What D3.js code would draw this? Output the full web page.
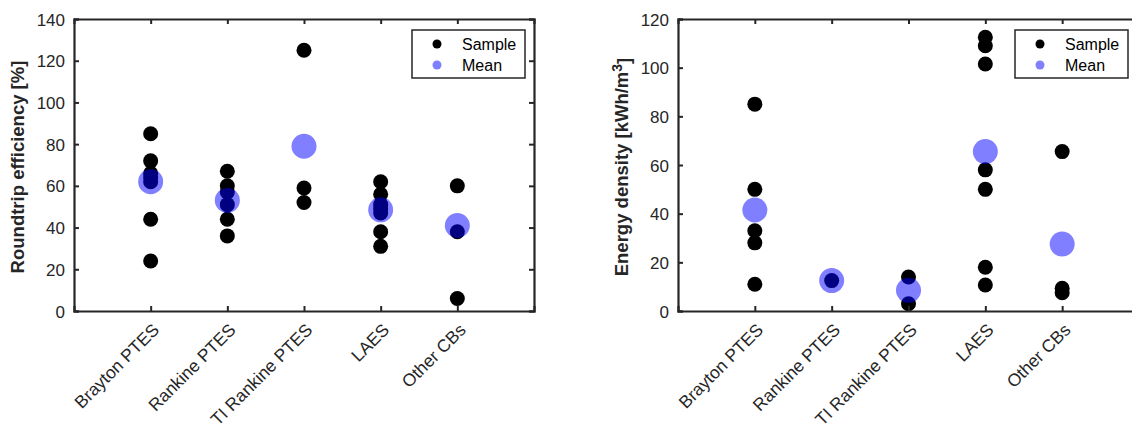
<!DOCTYPE html>
<html>
<head>
<meta charset="utf-8">
<script src="https://cdn.jsdelivr.net/npm/d3@7"></script>
<style>
  body { margin: 0; background: #fff; }
  svg { font-family: "Liberation Sans", Arial, sans-serif; }
  .tick text { fill: #262626; font-size: 17px; }
  .axis.bottom .tick text { font-size: 17.5px; }
  .ylab { font-weight: bold; font-size: 18.5px; fill: #262626; }
</style>
</head>
<body>
<svg id="chart" width="1132" height="431"></svg>
<script>
// categories on the x axis (shared by both panels)
const categories = ["Brayton PTES", "Rankine PTES", "TI Rankine PTES", "LAES", "Other CBs"];

// roundtrip efficiency [%]
const effSamples = [
  [85, 72, 66, 64, 62, 44, 24],
  [67, 60, 57, 51, 44, 36],
  [125, 59, 52],
  [62, 56, 51, 49, 47, 38, 31],
  [60, 38, 6]
];
const effMeans = [62, 53, 79, 48.5, 41];
const effTicks = [0, 20, 40, 60, 80, 100, 120, 140];

// energy density [kWh/m3]
const densSamples = [
  [85, 50, 33, 28, 11],
  [12.5],
  [14, 3],
  [112.5, 109, 101.5, 58, 50, 18, 10.7],
  [65.5, 9.3, 7.5]
];
const densMeans = [41.5, 12.5, 8.5, 65.5, 27.5];
const densTicks = [0, 20, 40, 60, 80, 100, 120];

const svg = d3.select("#chart");
const axisColor = "#262626";

function panel(opts) {
  const g = svg.append("g");
  const x = d3.scaleLinear().domain([0, categories.length + 1]).range([opts.left, opts.right]);
  const y = d3.scaleLinear().domain([0, opts.ymax]).range([opts.bottom, opts.top]);

  // sample points
  opts.samples.forEach(function(vals, i) {
    g.selectAll(null)
      .data(vals)
      .enter().append("circle")
      .attr("cx", x(i + 1))
      .attr("cy", d => y(d))
      .attr("r", 7.5)
      .attr("fill", "#000");
  });

  // means, translucent on top
  g.selectAll("circle.mean")
    .data(opts.means)
    .enter().append("circle")
    .attr("class", "mean")
    .attr("cx", (d, i) => x(i + 1))
    .attr("cy", d => y(d))
    .attr("r", 12.5)
    .attr("fill", "#0000ff")
    .attr("fill-opacity", 0.5);

  // box
  const xTicks = categories.map((c, i) => i + 1);
  const tickLen = 5;

  const left = g.append("g").attr("class", "axis left")
    .attr("transform", "translate(" + opts.left + ",0)")
    .call(d3.axisLeft(y).tickValues(opts.ticks).tickSize(-tickLen).tickPadding(9));
  g.append("g").attr("class", "axis right")
    .attr("transform", "translate(" + opts.right + ",0)")
    .call(d3.axisRight(y).tickValues(opts.ticks).tickSize(-tickLen).tickFormat(""));
  g.append("g").attr("class", "axis top")
    .attr("transform", "translate(0," + opts.top + ")")
    .call(d3.axisTop(x).tickValues(xTicks).tickSize(-tickLen).tickFormat(""));
  const bottom = g.append("g").attr("class", "axis bottom")
    .attr("transform", "translate(0," + opts.bottom + ")")
    .call(d3.axisBottom(x).tickValues(xTicks).tickSize(-tickLen).tickFormat(d => categories[d - 1]));

  g.selectAll(".axis path").attr("stroke", axisColor).attr("stroke-width", 2.2);
  g.selectAll(".axis line").attr("stroke", axisColor).attr("stroke-width", 2);
  left.selectAll("text").attr("dy", "0.36em");

  bottom.selectAll(".tick text")
    .attr("text-anchor", "end")
    .attr("y", 0).attr("dy", 0)
    .attr("transform", "translate(9,20) rotate(-45)");

  // y label
  const lab = g.append("text")
    .attr("class", "ylab")
    .attr("text-anchor", "middle")
    .attr("transform", "translate(" + opts.labelX + "," + ((opts.top + opts.bottom) / 2 + 2) + ") rotate(-90)");
  lab.append("tspan").text(opts.label);
  if (opts.sup) {
    lab.append("tspan").attr("dy", "-0.45em").style("font-size", "14px").text(opts.sup);
    lab.append("tspan").attr("dy", "0.45em").text(opts.after);
  }

  // legend
  const lg = g.append("g").attr("transform", "translate(" + opts.legendX + "," + 30 + ")");
  lg.append("rect").attr("width", 113).attr("height", 48)
    .attr("fill", "#fff").attr("stroke", axisColor).attr("stroke-width", 1.5);
  const items = [{name: "Sample", color: "#000", op: 1}, {name: "Mean", color: "#0000ff", op: 0.5}];
  items.forEach(function(it, i) {
    lg.append("circle").attr("cx", 25).attr("cy", 14 + i * 21).attr("r", 4.5)
      .attr("fill", it.color).attr("fill-opacity", it.op);
    lg.append("text").attr("x", 50).attr("y", 14 + i * 21).attr("dy", "0.36em")
      .style("font-size", "16px").attr("fill", "#000").text(it.name);
  });
}

panel({
  left: 74, right: 534, top: 19, bottom: 311, ymax: 140, ticks: effTicks,
  samples: effSamples, means: effMeans,
  label: "Roundtrip efficiency [%]", labelX: 24, legendX: 412
});

panel({
  left: 678, right: 1139, top: 19, bottom: 311, ymax: 120, ticks: densTicks,
  samples: densSamples, means: densMeans,
  label: "Energy density [kWh/m", sup: "3", after: "]", labelX: 628, legendX: 1015
});
</script>
</body>
</html>
